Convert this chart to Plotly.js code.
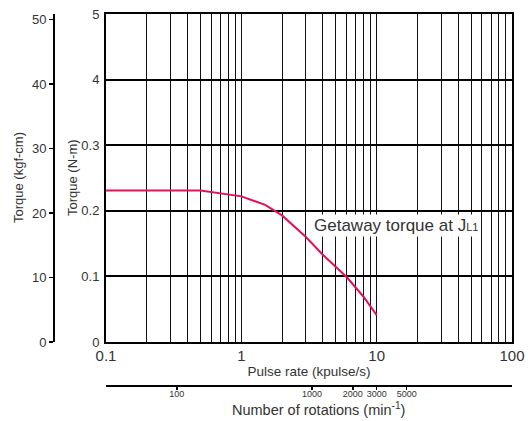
<!DOCTYPE html>
<html>
<head>
<meta charset="utf-8">
<script src="https://cdn.plot.ly/plotly-3.0.1.min.js"></script>
<style>html,body{margin:0;padding:0;background:#fff;}#chart{width:528px;height:421px;}</style>
</head>
<body>
<div id="chart"></div>
<script>
// Pulse rate (kpulse/s) and torque (N-m)
const pulseRate = [0.1, 0.5, 1.0, 1.5, 2.0, 3.0, 4.0, 6.0, 8.0, 10.0];
const torqueNm  = [0.231, 0.231, 0.222, 0.209, 0.193, 0.160, 0.133, 0.099, 0.069, 0.041];

// Axis ticks
const mainYTickVals = [0, 0.1, 0.2, 0.3, 0.4, 0.5];
const mainYTickText = ['0', '0.1', '0.2', '0.3', '4', '5'];
const kgfTickVals = [0, 10, 20, 30, 40, 50];
const decades = [0.1, 1, 10];
const decadeLabels = ['0.1', '1', '10', '100'];
const rpmTickVals = [100, 1000, 2000, 3000, 5000];
const rpmTickText = ['100', '1000', '2000', '3000', '5000'];

// build log grid tick positions (1..9 per decade)
const xTickVals = [];
const xTickText = [];
decades.forEach((d, i) => {
  for (let m = 1; m <= 9; m++) {
    xTickVals.push(+(d * m).toPrecision(3));
    xTickText.push(m === 1 ? decadeLabels[i] : '');
  }
});
xTickVals.push(100); xTickText.push(decadeLabels[3]);

const textColor = '#333';
const font = 'Liberation Sans, Arial, sans-serif';
const W = 528, H = 421;
const m = {l: 54, r: 16, t: 14, b: 35};
const pw = W - m.l - m.r, ph = H - m.t - m.b;
const xDom = [(106 - m.l) / pw, 1];
const yDom = [(H - m.b - 342) / ph, 1];

const traces = [{
  x: pulseRate, y: torqueNm, type: 'scatter', mode: 'lines',
  line: {color: '#e3105c', width: 2}, xaxis: 'x', yaxis: 'y',
  hoverinfo: 'skip', showlegend: false
}, {
  // invisible trace to activate secondary axes
  x: [100], y: [0], type: 'scatter', mode: 'markers',
  marker: {opacity: 0}, xaxis: 'x2', yaxis: 'y2', showlegend: false, hoverinfo: 'skip'
}];

const layout = {
  width: W, height: H,
  margin: m,
  paper_bgcolor: '#fff', plot_bgcolor: '#fff',
  font: {family: font, color: textColor},
  showlegend: false,
  xaxis: {
    type: 'log', range: [-1, 2], domain: xDom,
    tickvals: xTickVals, ticktext: xTickText,
    showgrid: true, gridcolor: '#111', gridwidth: 1,
    showline: true, linecolor: '#000', linewidth: 2, mirror: true,
    ticks: '', zeroline: false, ticklabelstandoff: -1,
    tickfont: {size: 15, color: textColor},
    title: {text: 'Pulse rate (kpulse/s)', font: {size: 13.5, color: textColor}, standoff: 0},
    anchor: 'y'
  },
  yaxis: {
    range: [0, 0.5], domain: yDom,
    tickvals: mainYTickVals, ticktext: mainYTickText,
    showgrid: true, gridcolor: '#000', gridwidth: 2,
    showline: true, linecolor: '#000', linewidth: 2, mirror: true,
    ticks: '', zeroline: false, ticklabelstandoff: 2,
    tickfont: {size: 13, color: textColor},
    anchor: 'x'
  },
  xaxis2: {
    type: 'log', overlaying: 'x', anchor: 'free', position: 0,
    range: [Math.log10(30), Math.log10(30000)],
    tickvals: rpmTickVals, ticktext: rpmTickText,
    ticks: 'outside', ticklen: 3, tickwidth: 1.5, tickcolor: '#000',
    ticklabelstandoff: -4,
    showline: true, linecolor: '#000', linewidth: 2,
    showgrid: false, zeroline: false, side: 'bottom',
    tickfont: {size: 9, color: textColor, family: 'Liberation Sans Narrow, Arial Narrow, sans-serif'}
  },
  yaxis2: {
    overlaying: 'y', anchor: 'free', position: 0,
    range: [0, 50.85],
    tickvals: kgfTickVals,
    ticks: 'outside', ticklen: 4, tickwidth: 1.5, tickcolor: '#000',
    showline: true, linecolor: '#000', linewidth: 2,
    showgrid: false, zeroline: false, side: 'left',
    tickfont: {size: 13, color: textColor}
  },
  annotations: [{
    text: 'Getaway torque at J<span style="font-size:11px">L1</span>',
    xref: 'x', yref: 'y', x: 0.52, y: 0.177,
    xanchor: 'left', yanchor: 'middle', showarrow: false,
    bgcolor: '#fff', borderpad: 1,
    font: {size: 17, color: textColor}
  }, {
    text: 'Torque (kgf-cm)', textangle: -90,
    xref: 'paper', yref: 'paper', x: (18 - m.l) / pw, y: (H - m.b - 178) / ph,
    xanchor: 'center', yanchor: 'middle', showarrow: false,
    font: {size: 13, color: textColor}
  }, {
    text: 'Torque (N-m)', textangle: -90,
    xref: 'paper', yref: 'paper', x: (72 - m.l) / pw, y: (H - m.b - 178) / ph,
    xanchor: 'center', yanchor: 'middle', showarrow: false,
    font: {size: 13, color: textColor}
  }, {
    text: 'Number of rotations (min<sup>-1</sup>)',
    xref: 'paper', yref: 'paper', x: (318 - m.l) / pw, y: (H - m.b - 409) / ph,
    xanchor: 'center', yanchor: 'middle', showarrow: false,
    font: {size: 14.5, color: textColor}
  }]
};

Plotly.newPlot('chart', traces, layout, {staticPlot: true, displayModeBar: false});
</script>
</body>
</html>
